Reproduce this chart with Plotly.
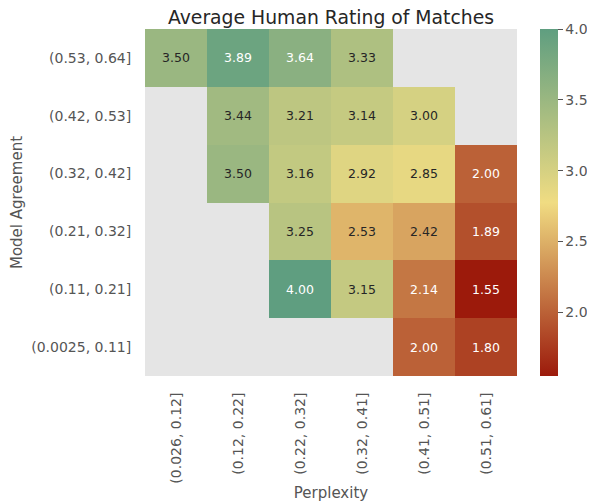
import plotly.graph_objects as go

perplexity = ["(0.026, 0.12]", "(0.12, 0.22]", "(0.22, 0.32]", "(0.32, 0.41]", "(0.41, 0.51]", "(0.51, 0.61]"]
agreement = ["(0.53, 0.64]", "(0.42, 0.53]", "(0.32, 0.42]", "(0.21, 0.32]", "(0.11, 0.21]", "(0.0025, 0.11]"]
NA = None
row_053_064 = [3.50, 3.89, 3.64, 3.33, NA, NA]
row_042_053 = [NA, 3.44, 3.21, 3.14, 3.00, NA]
row_032_042 = [NA, 3.50, 3.16, 2.92, 2.85, 2.00]
row_021_032 = [NA, NA, 3.25, 2.53, 2.42, 1.89]
row_011_021 = [NA, NA, 4.00, 3.15, 2.14, 1.55]
row_0025_011 = [NA, NA, NA, NA, 2.00, 1.80]
ratings = [row_053_064, row_042_053, row_032_042, row_021_032, row_011_021, row_0025_011]

zmin, zmax = 1.55, 4.0
stops = [(0.0, (156, 26, 11)), (0.5, (240, 220, 130)), (1.0, (95, 158, 128))]
colorscale = [[s, "rgb(%d,%d,%d)" % c] for s, c in stops]


def color_at(v):
    t = (v - zmin) / (zmax - zmin)
    for (s0, c0), (s1, c1) in zip(stops[:-1], stops[1:]):
        if s0 <= t <= s1:
            f = (t - s0) / (s1 - s0)
            return [c0[i] + f * (c1[i] - c0[i]) for i in range(3)]
    return list(stops[-1][1])


def lum(rgb):
    out = []
    for c in rgb:
        c = c / 255
        out.append(c / 12.92 if c <= 0.03928 else ((c + 0.055) / 1.055) ** 2.4)
    return 0.2126 * out[0] + 0.7152 * out[1] + 0.0722 * out[2]


fig = go.Figure(go.Heatmap(
    z=ratings, x=perplexity, y=agreement,
    zmin=zmin, zmax=zmax, colorscale=colorscale,
    hoverongaps=False,
    colorbar=dict(thickness=18, len=1.0, lenmode="fraction", y=0.5, yanchor="middle", ypad=0,
                  x=1.0, xpad=23, xanchor="left", outlinewidth=0,
                  tickvals=[2.0, 2.5, 3.0, 3.5, 4.0], ticktext=["2.0", "2.5", "3.0", "3.5", "4.0"],
                  ticks="outside", ticklen=5, tickcolor="#555555",
                  tickfont=dict(family="DejaVu Sans", size=14, color="#555555")),
))

annotations = []
for yi, row in enumerate(ratings):
    for xi, v in enumerate(row):
        if v is None:
            continue
        col = "#ffffff" if lum(color_at(v)) < 0.408 else "#262626"
        annotations.append(dict(x=perplexity[xi], y=agreement[yi], text="%.2f" % v,
                                showarrow=False, font=dict(family="DejaVu Sans", size=12.5, color=col)))

fig.update_layout(
    width=587, height=496,
    margin=dict(l=137, r=78, t=21, b=128, autoexpand=False),
    paper_bgcolor="white", plot_bgcolor="#e5e5e5",
    title=dict(text="Average Human Rating of Matches", x=0.5, xref="paper", xanchor="center",
               y=0.982, yref="container", yanchor="middle",
               font=dict(family="DejaVu Sans", size=18.8, color="#262626")),
    annotations=annotations,
    font=dict(family="DejaVu Sans", color="#555555"),
)
fig.update_xaxes(title=dict(text="Perplexity", font=dict(size=15, color="#555555"), standoff=4),
                 tickangle=-90, tickfont=dict(size=14, color="#555555"), showgrid=False,
                 zeroline=False, ticks="outside", ticklen=10, tickcolor="rgba(0,0,0,0)",
                 automargin=False)
fig.update_yaxes(title=dict(text="Model Agreement", font=dict(size=15, color="#555555"), standoff=8),
                 autorange="reversed", tickfont=dict(size=14, color="#555555"), showgrid=False,
                 zeroline=False, ticks="outside", ticklen=10, tickcolor="rgba(0,0,0,0)",
                 automargin=False)

fig.write_html("out.html")
